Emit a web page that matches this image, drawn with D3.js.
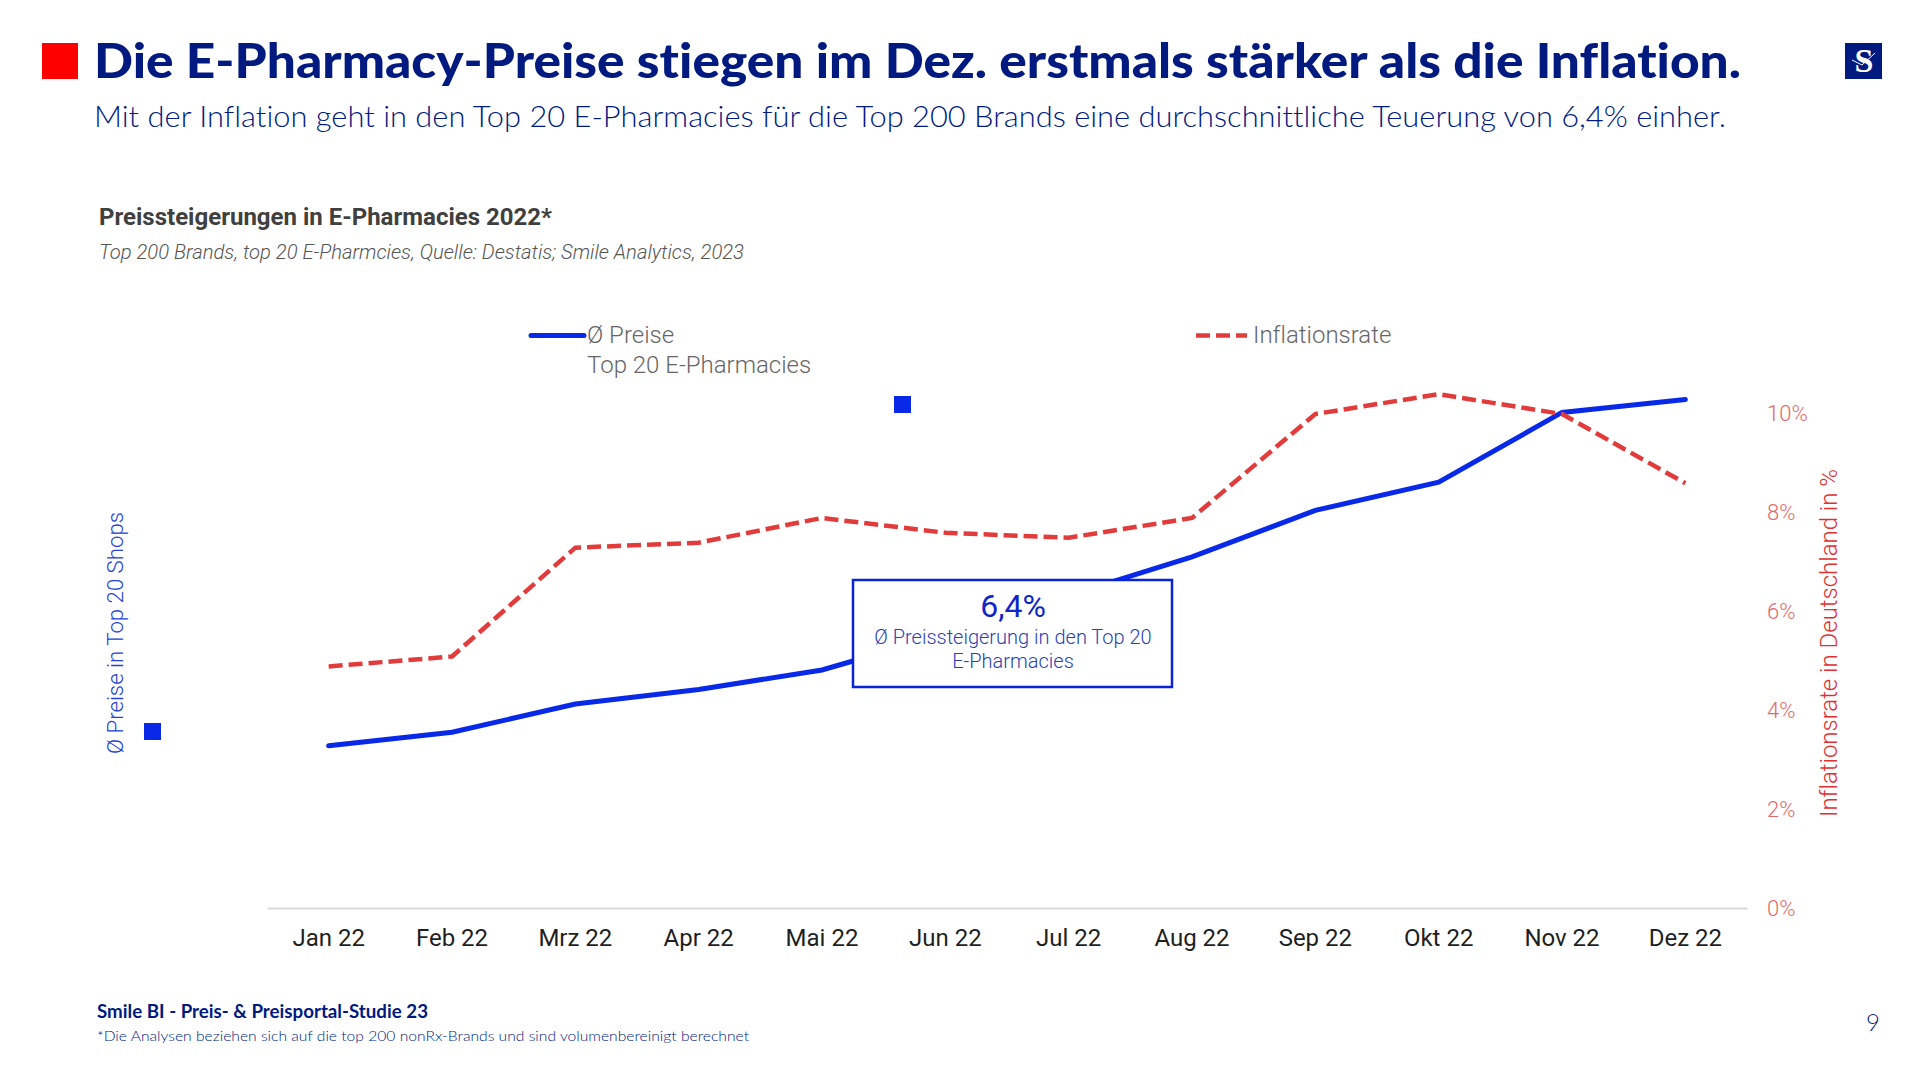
<!DOCTYPE html>
<html>
<head>
<meta charset="utf-8">
<script src="https://cdn.jsdelivr.net/npm/d3@7"></script>
<style>
  html, body { margin: 0; padding: 0; background: #fff; }
  svg { display: block; }
  text { font-family: Roboto, sans-serif; font-variant-ligatures: none; }
  .gothic { font-family: Lato, sans-serif; }
</style>
</head>
<body>
<svg id="chart" width="1920" height="1080"></svg>
<script>
var months = ["Jan 22", "Feb 22", "Mrz 22", "Apr 22", "Mai 22", "Jun 22", "Jul 22", "Aug 22", "Sep 22", "Okt 22", "Nov 22", "Dez 22"];
// price index, Jan = 100 (the left axis has no ticks in the picture)
var prices = [100, 100.25, 100.77, 101.04, 101.4, 102.06, 102.78, 103.49, 104.35, 104.87, 106.16, 106.4];
var inflation = [4.9, 5.1, 7.3, 7.4, 7.9, 7.6, 7.5, 7.9, 10, 10.4, 10, 8.6];
var inflationTicks = [0, 2, 4, 6, 8, 10];

var navy = "#001a80", blue = "#0829e8", red = "#e23b3b";

var svg = d3.select("#chart");

var x = d3.scaleBand().domain(months).range([267, 1747]);
var yInfl = d3.scaleLinear().domain([0, 10]).range([909, 414]);
var yPrice = d3.scaleLinear().domain([97, 107]).range([908, 367]);

function cx(d) { return x(d) + x.bandwidth() / 2; }

// header
svg.append("rect").attr("x", 42).attr("y", 43).attr("width", 36).attr("height", 36).attr("fill", "#ff0000");
svg.append("text").attr("class", "gothic").attr("x", 94).attr("y", 78)
  .attr("font-size", 47).attr("font-weight", 900).attr("fill", navy)
  .attr("textLength", 1647).attr("lengthAdjust", "spacingAndGlyphs")
  .text("Die E-Pharmacy-Preise stiegen im Dez. erstmals stärker als die Inflation.");
svg.append("text").attr("class", "gothic").attr("x", 94).attr("y", 127)
  .attr("font-size", 29).attr("font-weight", 300).attr("fill", navy)
  .attr("textLength", 1632).attr("lengthAdjust", "spacingAndGlyphs")
  .text("Mit der Inflation geht in den Top 20 E-Pharmacies für die Top 200 Brands eine durchschnittliche Teuerung von 6,4% einher.");

// logo
svg.append("rect").attr("x", 1845).attr("y", 43).attr("width", 37).attr("height", 36).attr("fill", navy);
svg.append("text").attr("x", 1864).attr("y", 72).attr("text-anchor", "middle")
  .style("font-family", "'Liberation Serif', serif").attr("font-weight", 700)
  .attr("font-size", 34).attr("fill", "#fff").text("S");
svg.append("path").attr("d", "M1852 60L1862 65L1875 53").attr("fill", "none").attr("stroke", "#fff").attr("stroke-width", 1);

// chart heading
svg.append("text").attr("x", 99).attr("y", 225)
  .attr("font-size", 24).attr("font-weight", 700).attr("fill", "#404040")
  .attr("textLength", 453).attr("lengthAdjust", "spacingAndGlyphs")
  .text("Preissteigerungen in E-Pharmacies 2022*");
svg.append("text").attr("x", 99).attr("y", 259)
  .attr("font-size", 20).attr("font-weight", 300).attr("font-style", "italic").attr("fill", "#555")
  .attr("textLength", 645).attr("lengthAdjust", "spacingAndGlyphs")
  .text("Top 200 Brands, top 20 E-Pharmcies, Quelle: Destatis; Smile Analytics, 2023");

// axes
var xAxis = d3.axisBottom(x).tickSize(0).tickPadding(21);
var gx = svg.append("g").attr("transform", "translate(0,908)").call(xAxis);
gx.select(".domain").attr("stroke", "#d9d9d9").attr("stroke-width", 2);
gx.selectAll("text").attr("font-size", 24).attr("fill", "#1f1f1f").style("font-family", "Roboto, sans-serif");

var yAxis = d3.axisRight(yInfl).tickValues(inflationTicks).tickSize(0).tickPadding(0)
  .tickFormat(function(d) { return d + "%"; });
var gy = svg.append("g").attr("transform", "translate(1767,-1)").call(yAxis);
gy.select(".domain").remove();
gy.selectAll("text").attr("font-size", 22).attr("font-weight", 300).attr("fill", "#e06a6a")
  .style("font-family", "Roboto, sans-serif");

svg.append("text").attr("transform", "translate(1837,817) rotate(-90)")
  .attr("font-size", 24).attr("font-weight", 300).attr("fill", "#e03030")
  .attr("textLength", 348).attr("lengthAdjust", "spacingAndGlyphs")
  .text("Inflationsrate in Deutschland in %");
svg.append("text").attr("transform", "translate(123,754) rotate(-90)")
  .attr("font-size", 22).attr("font-weight", 300).attr("fill", "#2440d8")
  .attr("textLength", 242).attr("lengthAdjust", "spacingAndGlyphs")
  .text("Ø Preise in Top 20 Shops");

// lines
var priceLine = d3.line().x(function(d, i) { return cx(months[i]); }).y(function(d) { return yPrice(d); });
var inflLine = d3.line().x(function(d, i) { return cx(months[i]); }).y(function(d) { return yInfl(d); });

svg.append("path").attr("d", priceLine(prices)).attr("fill", "none")
  .attr("stroke", blue).attr("stroke-width", 5).attr("stroke-linecap", "round");
svg.append("path").attr("d", inflLine(inflation)).attr("fill", "none")
  .attr("stroke", red).attr("stroke-width", 4.5).attr("stroke-dasharray", "14,6");

// legend
svg.append("line").attr("x1", 531).attr("x2", 584).attr("y1", 335.5).attr("y2", 335.5)
  .attr("stroke", blue).attr("stroke-width", 5).attr("stroke-linecap", "round");
svg.append("text").attr("x", 587).attr("y", 343).attr("font-size", 24).attr("font-weight", 300).attr("fill", "#666").text("Ø Preise");
svg.append("text").attr("x", 587).attr("y", 373).attr("font-size", 24).attr("font-weight", 300).attr("fill", "#666").text("Top 20 E-Pharmacies");
svg.append("line").attr("x1", 1196).attr("x2", 1247).attr("y1", 335.5).attr("y2", 335.5)
  .attr("stroke", red).attr("stroke-width", 4.5).attr("stroke-dasharray", "14,6");
svg.append("text").attr("x", 1253).attr("y", 343).attr("font-size", 24).attr("font-weight", 300).attr("fill", "#666").text("Inflationsrate");

// stray blue squares from the original slide
svg.append("rect").attr("x", 894).attr("y", 396).attr("width", 17).attr("height", 17).attr("fill", blue);
svg.append("rect").attr("x", 144).attr("y", 723).attr("width", 17).attr("height", 17).attr("fill", blue);

// callout
svg.append("rect").attr("x", 853).attr("y", 580).attr("width", 319).attr("height", 107)
  .attr("fill", "#fff").attr("stroke", "#0a22d8").attr("stroke-width", 2.5);
svg.append("text").attr("x", 1013).attr("y", 617).attr("text-anchor", "middle")
  .attr("font-size", 32).attr("fill", "#0f25c8").text("6,4%");
svg.append("text").attr("x", 1013).attr("y", 644).attr("text-anchor", "middle")
  .attr("font-size", 20).attr("font-weight", 300).attr("fill", "#2a3fb0").text("Ø Preissteigerung in den Top 20");
svg.append("text").attr("x", 1013).attr("y", 668).attr("text-anchor", "middle")
  .attr("font-size", 20).attr("font-weight", 300).attr("fill", "#2a3fb0").text("E-Pharmacies");

// footer
svg.append("text").attr("class", "gothic").attr("x", 97).attr("y", 1018)
  .attr("font-size", 18).attr("font-weight", 700).attr("fill", navy)
  .attr("textLength", 331).attr("lengthAdjust", "spacingAndGlyphs")
  .text("Smile BI - Preis- & Preisportal-Studie 23");
svg.append("text").attr("class", "gothic").attr("x", 97).attr("y", 1041)
  .attr("font-size", 14).attr("font-weight", 300).attr("fill", navy)
  .attr("textLength", 652).attr("lengthAdjust", "spacingAndGlyphs")
  .text("*Die Analysen beziehen sich auf die top 200 nonRx-Brands und sind volumenbereinigt berechnet");
svg.append("text").attr("class", "gothic").attr("x", 1873).attr("y", 1031).attr("text-anchor", "middle")
  .attr("font-size", 24).attr("font-weight", 300).attr("fill", navy).text("9");
</script>
</body>
</html>
